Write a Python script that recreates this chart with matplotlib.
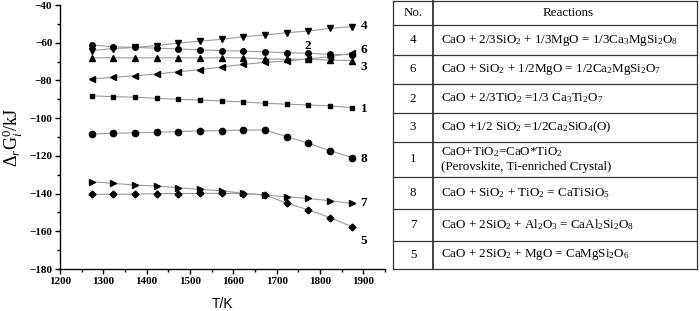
import numpy as np
import matplotlib
matplotlib.use('Agg')
from matplotlib import pyplot as plt
from matplotlib.lines import Line2D

plt.rcParams['font.family'] = 'Liberation Serif'
plt.rcParams['mathtext.fontset'] = 'custom'
plt.rcParams['mathtext.rm'] = 'Liberation Serif'
plt.rcParams['mathtext.it'] = 'Liberation Serif:italic'

#------------------------------------------------------------
# data
T = [1273, 1323, 1373, 1423, 1473, 1523, 1573, 1623, 1673, 1723, 1773, 1823, 1873]

dg4 = [-64.2, -63.1, -62.5, -61.5, -60.2, -59.2, -58.2, -56.8, -55.9, -54.7, -53.8, -52.4, -51.5]
dg2 = [-61.2, -62.1, -62.5, -62.9, -63.3, -63.8, -64.2, -64.4, -64.9, -65.3, -65.6, -66.2, -66.3]
dg3 = [-68.0, -68.0, -68.0, -68.0, -68.0, -68.1, -68.0, -68.0, -68.6, -68.8, -68.8, -69.2, -69.5]
dg6 = [-79.2, -78.4, -77.5, -76.6, -75.4, -74.3, -72.9, -71.5, -70.4, -69.7, -68.6, -67.4, -65.6]
dg1 = [-88.2, -88.6, -88.9, -89.5, -90.0, -90.4, -90.9, -91.4, -92.1, -92.6, -93.0, -93.5, -94.4]
dg8 = [-108.4, -108.0, -107.8, -107.5, -107.1, -106.8, -106.6, -106.3, -106.3, -109.8, -113.3, -117.2, -120.9]
dg7 = [-133.7, -134.6, -135.5, -136.0, -136.9, -137.8, -138.5, -139.9, -140.8, -141.7, -142.6, -143.8, -145.2]
dg5 = [-140.4, -140.4, -140.3, -140.0, -140.0, -139.9, -139.9, -140.0, -140.7, -145.1, -148.6, -152.7, -157.5]

series_ids = ['4', '2', '3', '6', '1', '8', '7', '5']
series_vals = [dg4, dg2, dg3, dg6, dg1, dg8, dg7, dg5]
markers = ['v', 'o', '^', '<', 's', 'o', '>', 'D']
msizes = [4.5, 4, 4.5, 4.5, 3.5, 4.5, 4.5, 3.5]
# where the number label sits: (index of point, x offset px, y offset px)
label_pos = [(12, 9, 1), (10, 0, 7), (12, 9, -6), (12, 9, 3),
             (12, 9, -1), (12, 9, -1), (12, 9, 0), (12, 9, -14)]

table_no = ['4', '6', '2', '3', '1', '8', '7', '5']
table_rx = [r'CaO + 2/3SiO$_2$ + 1/3MgO = 1/3Ca$_3$MgSi$_2$O$_8$',
            r'CaO + SiO$_2$ + 1/2MgO = 1/2Ca$_2$MgSi$_2$O$_7$',
            r'CaO + 2/3TiO$_2$ =1/3 Ca$_3$Ti$_2$O$_7$',
            r'CaO +1/2 SiO$_2$ =1/2Ca$_2$SiO$_4$(O)',
            r'CaO+TiO$_2$=CaO*TiO$_2$',
            r'CaO + SiO$_2$ + TiO$_2$ = CaTiSiO$_5$',
            r'CaO + 2SiO$_2$ + Al$_2$O$_3$ = CaAl$_2$Si$_2$O$_8$',
            r'CaO + 2SiO$_2$ + MgO = CaMgSi$_2$O$_6$']
table_extra = {4: '(Perovskite, Ti-enriched Crystal)'}

#------------------------------------------------------------
W, H = 700, 311
fig = plt.figure(figsize=(W / 100, H / 100), dpi=100)
ax = fig.add_axes([60 / W, 1 - 269 / H, 325 / W, 264 / H])

for sid, vals, mk, ms, (i, dx, dy) in zip(series_ids, series_vals, markers, msizes, label_pos):
    ax.plot(T, vals, color='#9a9a9a', lw=0.8, zorder=1)
    ax.plot(T, vals, ls='none', marker=mk, ms=ms, color='black', zorder=2)
    ax.annotate(sid, (T[i], vals[i]), xytext=(dx * 0.72, dy * 0.72),
                textcoords='offset points', fontsize=9.5, fontweight='bold',
                va='center', ha='center' if dx == 0 else 'left')

ax.set_xlim(1200, 1950)
ax.set_ylim(-180, -40)
ax.set_xticks(np.arange(1200, 1901, 100))
ax.set_xticks(np.arange(1250, 1951, 100), minor=True)
ax.set_yticks(np.arange(-180, -39, 20))
ax.set_yticks(np.arange(-170, -40, 20), minor=True)
for s in ['top', 'right']:
    ax.spines[s].set_visible(False)
for s in ['left', 'bottom']:
    ax.spines[s].set_linewidth(1.0)
ax.tick_params(which='major', direction='out', length=3.5, width=1, labelsize=8, pad=2)
ax.tick_params(which='minor', direction='out', length=2.5, width=1)
for lab in ax.get_xticklabels() + ax.get_yticklabels():
    lab.set_fontweight('bold')

ax.set_xlabel('T/K', family='Liberation Sans', fontsize=10, labelpad=8)
ax.set_ylabel(r'$\Delta_r\mathrm{G}^0_i\mathrm{/kJ}$', fontsize=13, labelpad=3)

#------------------------------------------------------------
# reaction table drawn in figure pixels
def fx(x):
    return x / W

def fy(y):
    return 1 - y / H

left, mid, right = 393, 433, 697
rows = [1, 25, 55, 84, 113, 142, 177, 209, 241, 269]
lc = '#333333'
for y in rows:
    fig.add_artist(Line2D([fx(left), fx(right)], [fy(y), fy(y)], color=lc, lw=0.9))
for x, lw in [(left, 0.9), (mid, 1.3), (right, 0.9)]:
    fig.add_artist(Line2D([fx(x), fx(x)], [fy(rows[0]), fy(rows[-1])], color=lc, lw=lw))

fs = 9.4
fig.text(fx((left + mid) / 2), fy((rows[0] + rows[1]) / 2), 'No.', ha='center', va='center', fontsize=fs)
fig.text(fx(568), fy((rows[0] + rows[1]) / 2), 'Reactions', ha='center', va='center', fontsize=fs)
for k, (no, rx) in enumerate(zip(table_no, table_rx)):
    y0, y1 = rows[k + 1], rows[k + 2]
    fig.text(fx((left + mid) / 2), fy((y0 + y1) / 2), no, ha='center', va='center', fontsize=fs)
    if k in table_extra:
        fig.text(fx(441), fy(y0 + 10), rx, ha='left', va='center', fontsize=fs)
        fig.text(fx(441), fy(y0 + 25), table_extra[k], ha='left', va='center', fontsize=fs)
    else:
        fig.text(fx(441), fy((y0 + y1) / 2), rx, ha='left', va='center', fontsize=fs)

plt.savefig('out.png', dpi=100)
